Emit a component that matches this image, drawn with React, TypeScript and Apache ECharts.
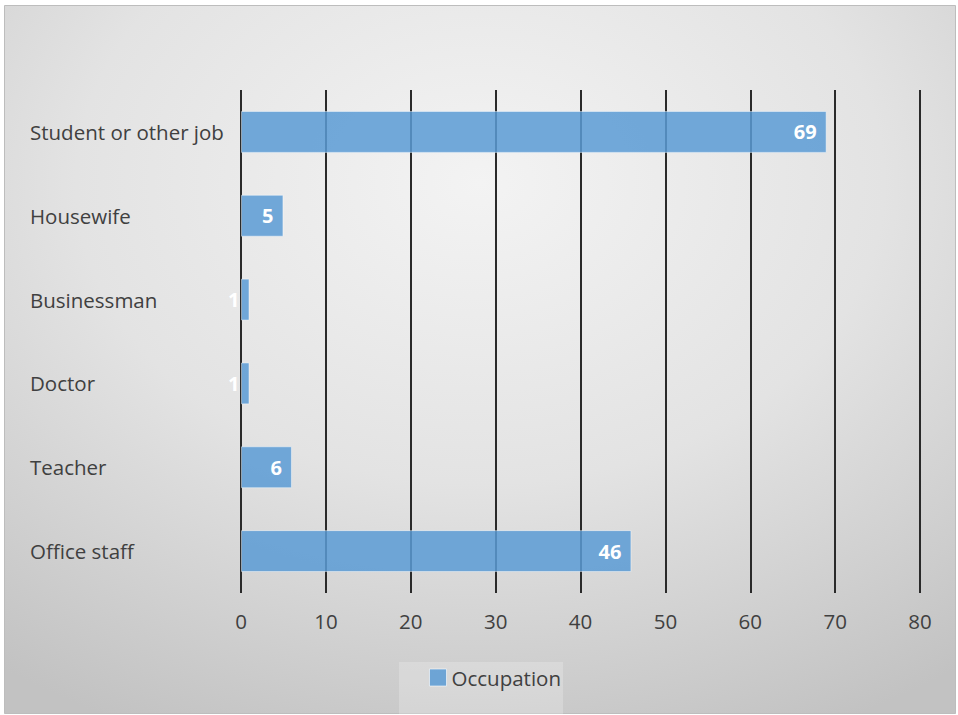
import React, { useEffect, useRef } from "react";
import * as echarts from "echarts";

// Occupation counts, listed top to bottom as shown on the category axis
const categories = [
  "Student or other job",
  "Housewife",
  "Businessman",
  "Doctor",
  "Teacher",
  "Office staff",
];
const occupationCounts = [69, 5, 1, 1, 6, 46];
const seriesName = "Occupation";
const axisMax = 80;
const axisStep = 10;

const FONT = "'Open Sans', 'Noto Sans', sans-serif";

export default function App() {
  const ref = useRef<HTMLDivElement>(null);

  useEffect(() => {
    document.body.style.margin = "0";
    if (!ref.current) return;
    const chart = echarts.init(ref.current, null, { renderer: "svg" });

    chart.setOption({
      animation: false,
      graphic: [
        {
          type: "rect",
          z: 0,
          silent: true,
          shape: { x: 4.5, y: 5.5, width: 951, height: 708 },
          style: {
            fill: new echarts.graphic.RadialGradient(0.5, 0.25, 0.85, [
              { offset: 0, color: "#f3f3f3" },
              { offset: 0.5, color: "#e3e3e3" },
              { offset: 1, color: "#c2c2c2" },
            ]),
            stroke: "#bdbdbd",
            lineWidth: 1,
          },
        },
        {
          type: "rect",
          z: 1,
          silent: true,
          shape: { x: 399, y: 662, width: 164, height: 53 },
          style: { fill: "rgba(255,255,255,0.22)" },
        },
      ],
      grid: { left: 241, right: 38, top: 90, bottom: 122 },
      legend: {
        data: [seriesName],
        left: 424,
        top: 662,
        icon: "rect",
        itemWidth: 17,
        itemHeight: 17,
        itemGap: 10,
        textStyle: { fontFamily: FONT, fontSize: 20.5, color: "#404040" },
        itemStyle: { borderColor: "rgba(255,255,255,0.6)", borderWidth: 1 },
      },
      xAxis: {
        type: "value",
        min: 0,
        max: axisMax,
        interval: axisStep,
        axisLine: { show: false },
        axisTick: { show: false },
        splitLine: { lineStyle: { color: "#2a2a2a", width: 2 } },
        axisLabel: {
          margin: 17,
          fontFamily: FONT,
          fontSize: 20.5,
          color: "#404040",
        },
      },
      yAxis: {
        type: "category",
        data: categories,
        inverse: true,
        axisLine: { show: false },
        axisTick: { show: false },
        splitLine: { show: false },
        axisLabel: {
          align: "left",
          margin: 211,
          fontFamily: FONT,
          fontSize: 20.5,
          color: "#404040",
        },
      },
      series: [
        {
          name: seriesName,
          type: "bar",
          data: occupationCounts,
          barCategoryGap: "50%",
          itemStyle: {
            color: "rgba(91,155,213,0.85)",
            borderColor: "rgba(255,255,255,0.45)",
            borderWidth: 1,
          },
          label: {
            show: true,
            position: "insideRight",
            distance: 10,
            color: "#ffffff",
            fontFamily: FONT,
            fontWeight: "bold",
            fontSize: 20,
          },
        },
      ],
    });

    return () => chart.dispose();
  }, []);

  return <div ref={ref} style={{ width: 958, height: 715 }} />;
}
